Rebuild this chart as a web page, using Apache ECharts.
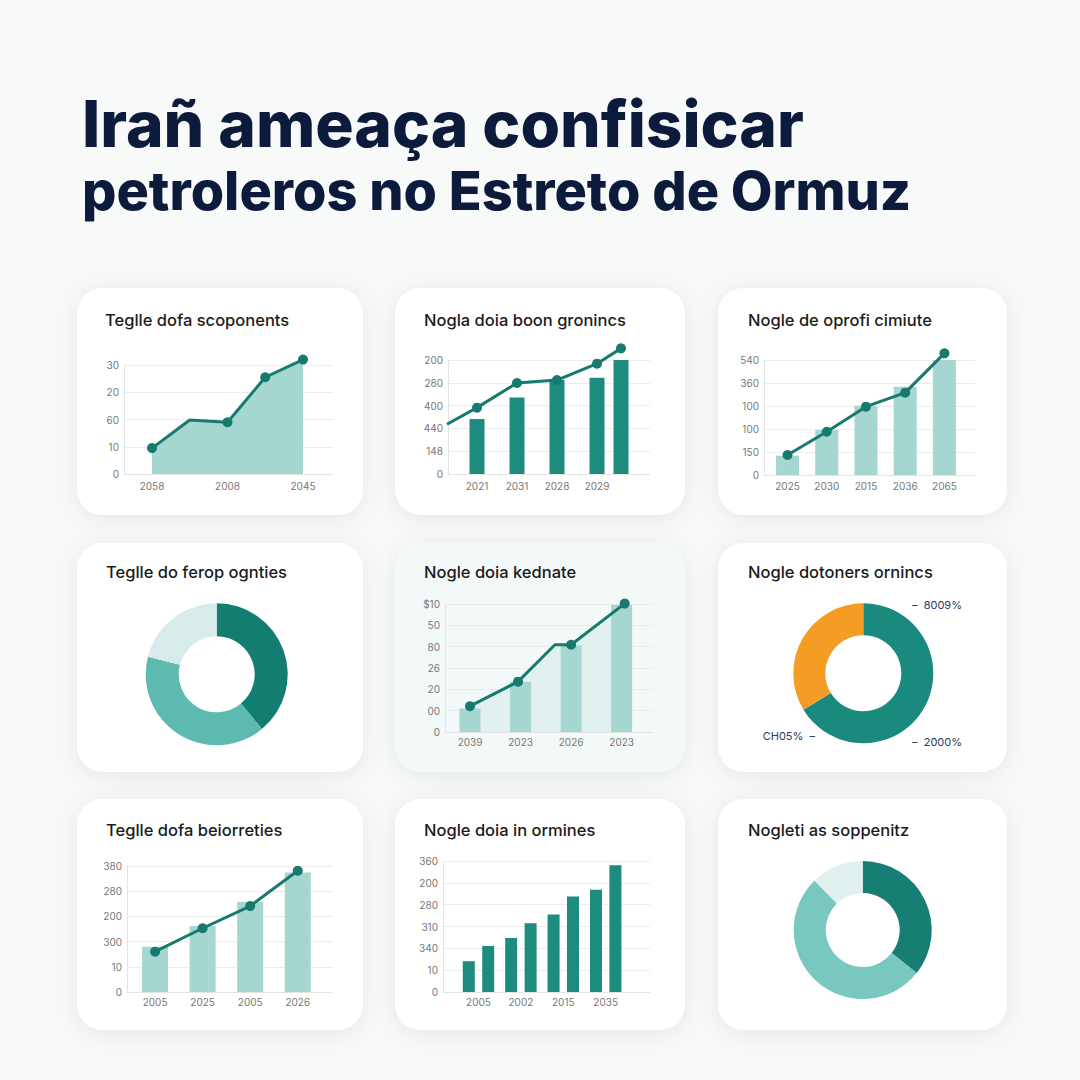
<!DOCTYPE html>
<html><head><meta charset="utf-8">
<script src="https://cdn.jsdelivr.net/npm/echarts@6/dist/echarts.min.js"></script>
<style>html,body{margin:0;padding:0;background:#f8f9f9}#c{width:1080px;height:1080px}</style>
</head><body><div id="c"></div>
<script>
// ---------------- DATA ----------------
const mainTitle1 = 'Irañ ameaça confisicar';
const mainTitle2 = 'petroleros no Estreto de Ormuz';
const panelTitles = [
  'Teglle dofa scoponents', 'Nogla doia boon gronincs', 'Nogle de oprofi cimiute',
  'Teglle do ferop ognties', 'Nogle doia kednate', 'Nogle dotoners ornincs',
  'Teglle dofa beiorreties', 'Nogle doia in ormines', 'Nogleti as soppenitz'
];

// Panel 1: area line (values in tick units)
const p1YTicks = ['0', '10', '60', '20', '30'];
const p1XLabels = ['2058', '', '2008', '', '2045'];
const p1X = [0, 1, 2, 3, 4];
const p1Values = [0.95, 1.98, 1.9, 3.55, 4.2];
const p1Markers = [true, false, true, true, true];

// Panel 2: bars + line
const p2YTicks = ['0', '148', '440', '400', '280', '200'];
const p2XLabels = ['2021', '2031', '2028', '2029'];
const p2BarX = [0, 1, 2, 3, 3.6];
const p2Bars = [2.41, 3.35, 4.12, 4.22, 5.1];
const p2LineX = [-0.75, 0, 1, 2, 3, 3.6];
const p2Line = [2.18, 2.91, 3.99, 4.12, 4.84, 5.51];
const p2Markers = [false, true, true, true, true, true];

// Panel 3: bars + line
const p3YTicks = ['0', '150', '100', '100', '360', '540'];
const p3XLabels = ['2025', '2030', '2015', '2036', '2065'];
const p3X = [0, 1, 2, 3, 4];
const p3Bars = [0.84, 1.96, 3.01, 3.84, 5.04];
const p3Line = [0.87, 1.88, 2.97, 3.58, 5.29];

// Panel 4: donut
const p4Values = [39, 40, 21];

// Panel 5: area + bars + line
const p5YTicks = ['0', '00', '20', '26', '80', '50', '$10'];
const p5XLabels = ['2039', '2023', '2026', '2023'];
const p5BarX = [0, 1, 2, 3];
const p5Bars = [1.10, 2.36, 4.07, 5.96];
const p5LineX = [0, 0.95, 1.68, 2, 3.06];
const p5Line = [1.21, 2.36, 4.09, 4.09, 6.02];
const p5Markers = [true, true, false, true, true];

// Panel 6: donut with labels
const p6Values = [66.3, 33.7];
const p6Labels = ['8009%', 'CH05%', '2000%'];

// Panel 7: bars + line
const p7YTicks = ['0', '10', '300', '200', '280', '380'];
const p7XLabels = ['2005', '2025', '2005', '2026'];
const p7X = [0, 1, 2, 3];
const p7Bars = [1.80, 2.62, 3.58, 4.74];
const p7Line = [1.60, 2.53, 3.41, 4.81];

// Panel 8: grouped bars
const p8YTicks = ['0', '10', '340', '310', '280', '200', '360'];
const p8XLabels = ['2005', '2002', '2015', '2035'];
const p8X = [0, 1, 2, 3];
const p8BarsA = [1.41, 2.47, 3.55, 4.68];
const p8BarsB = [2.11, 3.15, 4.37, 5.81];

// Panel 9: donut
const p9Values = [35.7, 52, 12.3];

// ---------------- STYLE ----------------
const FONT = 'Inter';
const LINE = '#177a6e';
const DARK_BAR = '#1d8b7e';
const LIGHT_BAR = '#a6d6d0';
const AREA = '#a6d6d0';
const AREA_LIGHT = '#e2f1ef';
const GRIDC = '#ececec';

const cards = [
  [77, 288, 286, 227], [395, 288, 290, 227], [718, 288, 289, 227],
  [77, 543, 286, 229], [395, 543, 290, 229], [718, 543, 289, 229],
  [77, 799, 286, 231], [395, 799, 290, 231], [718, 799, 289, 231]
];
const titlePos = [
  [105, 320], [424, 320], [748, 320],
  [106, 572], [424, 572], [748, 572],
  [106, 830], [424, 830], [748, 830]
];

const grids = [
  {left: 124, top: 365, width: 209, height: 109},
  {left: 448, top: 360, width: 202, height: 114},
  {left: 764, top: 360, width: 211, height: 115},
  {left: 445, top: 604, width: 208, height: 128},
  {left: 127, top: 866, width: 205, height: 126},
  {left: 443, top: 861, width: 207, height: 131}
];

function yAx(gi, ticks) {
  return {
    type: 'value', gridIndex: gi, min: 0, max: ticks.length - 1, interval: 1,
    axisLine: {show: true, onZero: false, lineStyle: {color: '#e4e4e4'}},
    axisTick: {show: false},
    splitLine: {show: true, lineStyle: {color: GRIDC}},
    axisLabel: {color: '#777777', fontSize: 10, fontFamily: FONT, margin: 5,
      formatter: v => ticks[Math.round(v)] || ''}
  };
}
function xAx(gi, min, max, labels, margin) {
  return {
    type: 'value', gridIndex: gi, min: min, max: max,
    axisLine: {show: true, onZero: false, lineStyle: {color: '#e4e4e4'}},
    axisTick: {show: false},
    splitLine: {show: false},
    axisLabel: {color: '#777777', fontSize: 10, fontFamily: FONT, margin: margin,
      customValues: labels.map((l, i) => i).filter(i => labels[i] !== ''),
      formatter: v => labels[Math.round(v)] || ''}
  };
}
function pts(xs, ys, markers) {
  return xs.map((x, i) => ({value: [x, ys[i]], symbol: (markers && !markers[i]) ? 'none' : 'circle'}));
}
function lineS(gi, xs, ys, markers, extra) {
  return Object.assign({
    type: 'line', xAxisIndex: gi, yAxisIndex: gi, data: pts(xs, ys, markers),
    symbolSize: 10, lineStyle: {color: LINE, width: 3}, itemStyle: {color: LINE},
    clip: false, z: 4
  }, extra || {});
}
function barS(gi, xs, ys, color, width, extra) {
  return Object.assign({
    type: 'bar', xAxisIndex: gi, yAxisIndex: gi, data: xs.map((x, i) => [x, ys[i]]),
    barWidth: width, itemStyle: {color: color}, z: 3
  }, extra || {});
}

const graphic = [];
cards.forEach((c, i) => {
  graphic.push({
    type: 'rect', shape: {x: c[0], y: c[1], width: c[2], height: c[3], r: 26}, z: -5, silent: true,
    style: {fill: i === 4 ? '#f2f9f8' : '#ffffff', shadowBlur: 24, shadowColor: 'rgba(0,0,0,0.08)', shadowOffsetY: 3}
  });
});
graphic.push({type: 'text', x: 82, y: 123, z: 10, silent: true,
  style: {text: mainTitle1, fill: '#0c1a3c', font: '800 64px Inter', textVerticalAlign: 'middle'}});
graphic.push({type: 'text', x: 82, y: 190, z: 10, silent: true,
  style: {text: mainTitle2, fill: '#0c1a3c', font: '800 54px Inter', textVerticalAlign: 'middle'}});
panelTitles.forEach((t, i) => {
  graphic.push({type: 'text', x: titlePos[i][0], y: titlePos[i][1], z: 10, silent: true,
    style: {text: t, fill: '#1b1b1b', font: '500 16.5px Inter', textVerticalAlign: 'middle'}});
});
// panel 6 labels
graphic.push({type: 'text', x: 912, y: 605, z: 10, silent: true,
  style: {text: '\u2013  ' + p6Labels[0], fill: '#2b3a55', font: '11px Inter', textVerticalAlign: 'middle'}});
graphic.push({type: 'text', x: 815, y: 736, z: 10, silent: true,
  style: {text: p6Labels[1] + '  \u2013', fill: '#2b3a55', font: '11px Inter', textAlign: 'right', textVerticalAlign: 'middle'}});
graphic.push({type: 'text', x: 912, y: 742, z: 10, silent: true,
  style: {text: '\u2013  ' + p6Labels[2], fill: '#2b3a55', font: '11px Inter', textVerticalAlign: 'middle'}});

function pie(center, radius, values, colors) {
  return {
    type: 'pie', center: center, radius: radius, startAngle: 90, silent: true,
    label: {show: false}, labelLine: {show: false}, z: 3,
    data: values.map((v, i) => ({value: v, itemStyle: {color: colors[i]}}))
  };
}

const option = {
  animation: false,
  backgroundColor: '#f8f9f9',
  graphic: graphic,
  grid: grids,
  xAxis: [
    xAx(0, -0.742, 4.795, p1XLabels, 7),
    xAx(1, -0.725, 4.325, p2XLabels, 7),
    xAx(2, -0.6, 4.78, p3XLabels, 6),
    xAx(3, -0.495, 3.62, p5XLabels, 5),
    xAx(4, -0.59, 3.72, p7XLabels, 5),
    xAx(5, -0.837, 4.045, p8XLabels, 5)
  ],
  yAxis: [yAx(0, p1YTicks), yAx(1, p2YTicks), yAx(2, p3YTicks), yAx(3, p5YTicks), yAx(4, p7YTicks), yAx(5, p8YTicks)],
  series: [
    lineS(0, p1X, p1Values, p1Markers, {areaStyle: {color: AREA, opacity: 1}}),
    barS(1, p2BarX, p2Bars, DARK_BAR, 15),
    lineS(1, p2LineX, p2Line, p2Markers),
    barS(2, p3X, p3Bars, LIGHT_BAR, 23),
    lineS(2, p3X, p3Line, null),
    lineS(3, p5LineX, p5Line, null, {symbol: 'none', showSymbol: false, lineStyle: {width: 0}, areaStyle: {color: AREA_LIGHT, opacity: 1}, z: 2,
      data: p5LineX.map((x, i) => [x, p5Line[i]])}),
    barS(3, p5BarX, p5Bars, LIGHT_BAR, 21),
    lineS(3, p5LineX, p5Line, p5Markers),
    barS(4, p7X, p7Bars, LIGHT_BAR, 26),
    lineS(4, p7X, p7Line, null),
    barS(5, p8X, p8BarsA, DARK_BAR, 12, {barGap: '62%'}),
    barS(5, p8X, p8BarsB, DARK_BAR, 12, {barGap: '62%'}),
    pie([216.7, 674.3], [38, 71], p4Values, ['#147d72', '#5cbab0', '#d7ecea']),
    pie([863.3, 673.3], [38, 70], p6Values, ['#1a8a7e', '#f59c25']),
    pie([862.7, 930], [37, 69], p9Values, ['#167e73', '#78c8bf', '#e1f1ef'])
  ]
};
const chart = echarts.init(document.getElementById('c'), null, {renderer: 'svg', width: 1080, height: 1080});
chart.setOption(option);
</script>
</body></html>
